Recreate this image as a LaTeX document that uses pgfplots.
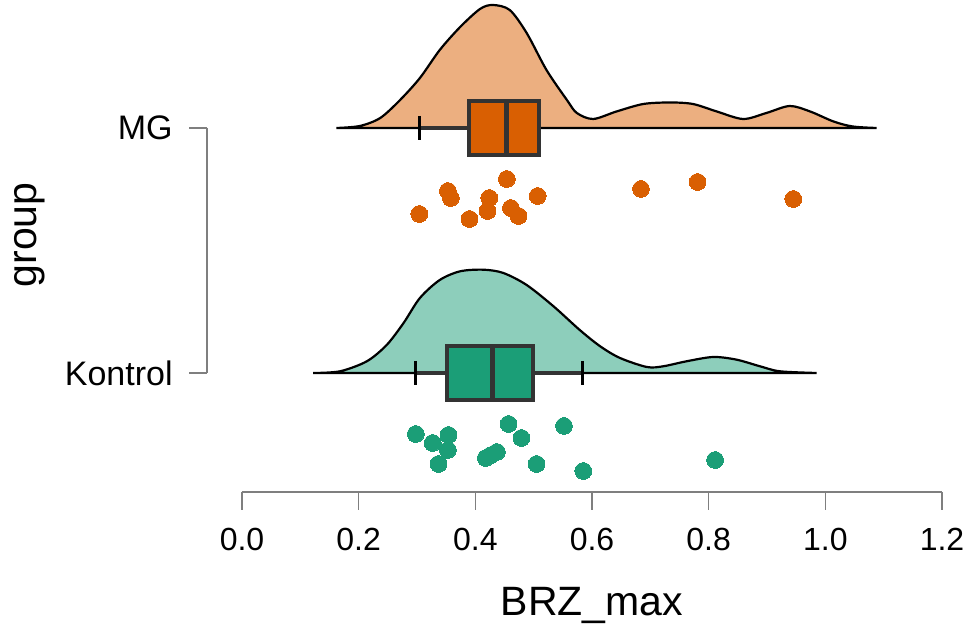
\documentclass[border=0pt]{standalone}
\usepackage{fontspec}
\setmainfont{Liberation Sans}
\usepackage{pgfplots}
\pgfplotsset{compat=1.18}
\definecolor{mgdark}{HTML}{D95F02}
\definecolor{mglight}{HTML}{ECAF80}
\definecolor{kdark}{HTML}{1B9E77}
\definecolor{klight}{HTML}{8DCEBB}
\definecolor{boxline}{HTML}{333333}
\definecolor{axgray}{HTML}{7F7F7F}
\begin{document}
\begin{tikzpicture}
\begin{axis}[
  scale only axis, x=291.667pt, y=0.5pt,
  xmin=0, xmax=1.2, ymin=-492, ymax=0,
  clip=false,
  axis x line*=bottom, axis y line=none,
  x axis line style={axgray, line width=0.75pt, -},
  xtick={0,0.2,0.4,0.6,0.8,1.0,1.2},
  tick align=outside, major tick length=9pt,
  xtick style={axgray, line width=0.75pt},
  ytick=\empty,
  /pgf/number format/assume math mode=true,
  xticklabel style={font=\fontsize{16}{19}\selectfont, yshift=-5.5pt, /pgf/number format/fixed, /pgf/number format/fixed zerofill, /pgf/number format/precision=1},
  xlabel={BRZ\_max},
  xlabel style={font=\fontsize{20.5}{24}\selectfont, at={(axis description cs:0.5,-0.2297)}, anchor=center},
]
% bounding area
\path (axis cs:-0.41486,0) rectangle (axis cs:1.25143,-635);
% y axis (R style)
\draw[axgray, line width=0.75pt] (axis cs:-0.06,-128) -- (axis cs:-0.06,-373);
\draw[axgray, line width=0.75pt] (axis cs:-0.06,-128) -- (axis cs:-0.0909,-128);
\draw[axgray, line width=0.75pt] (axis cs:-0.06,-373) -- (axis cs:-0.0909,-373);
\node[anchor=east, inner sep=0pt, font=\fontsize{17}{20}\selectfont] at (axis cs:-0.1183,-128) {MG};
\node[anchor=east, inner sep=0pt, font=\fontsize{17}{20}\selectfont] at (axis cs:-0.1183,-373) {Kontrol};
\node[rotate=90, inner sep=0pt, font=\fontsize{20.5}{24}\selectfont] at (axis cs:-0.3634,-235) {group};

% MG density
\addplot[draw=black, line width=1.1pt, fill=mglight, smooth, tension=0.5] coordinates {
(0.162,-128) (0.202,-126) (0.237,-118) (0.271,-100) (0.305,-78) (0.339,-50) (0.374,-27) (0.408,-9) (0.430,-5) (0.459,-10) (0.488,-33) (0.522,-70) (0.557,-100) (0.574,-113) (0.602,-119) (0.642,-111.5) (0.688,-104) (0.734,-102.5) (0.773,-104) (0.814,-111.5) (0.859,-119) (0.899,-113) (0.939,-106) (0.974,-111.5) (1.014,-121.5) (1.047,-126.5) (1.088,-128)
} -- cycle;
% Kontrol density
\addplot[draw=black, line width=1.1pt, fill=klight, smooth, tension=0.5] coordinates {
(0.122,-373) (0.168,-371.3) (0.214,-361.3) (0.248,-345) (0.277,-323) (0.305,-298) (0.339,-280) (0.374,-271.3) (0.414,-269.7) (0.448,-273) (0.488,-285) (0.534,-306.3) (0.579,-330) (0.614,-346.3) (0.648,-358) (0.694,-367) (0.722,-366.3) (0.762,-361.3) (0.808,-357) (0.848,-359.7) (0.888,-366.3) (0.922,-371.3) (0.985,-373)
} -- cycle;

% MG box
\addplot[boxline, line width=1.75pt] coordinates {(0.304,-128) (0.389,-128)};
\addplot[black, line width=1.5pt] coordinates {(0.304,-116) (0.304,-140)};
\addplot[draw=boxline, fill=mgdark, line width=2pt] coordinates {(0.389,-101) (0.509,-101) (0.509,-155) (0.389,-155)} -- cycle;
\addplot[boxline, line width=2.5pt] coordinates {(0.454,-101) (0.454,-155)};

% Kontrol box
\addplot[boxline, line width=1.75pt] coordinates {(0.298,-373) (0.351,-373)};
\addplot[boxline, line width=1.75pt] coordinates {(0.499,-373) (0.584,-373)};
\addplot[black, line width=1.5pt] coordinates {(0.298,-361) (0.298,-385)};
\addplot[black, line width=1.5pt] coordinates {(0.584,-361) (0.584,-385)};
\addplot[draw=boxline, fill=kdark, line width=2pt] coordinates {(0.351,-346) (0.499,-346) (0.499,-400) (0.351,-400)} -- cycle;
\addplot[boxline, line width=2.5pt] coordinates {(0.430,-346) (0.430,-400)};

% MG points
\addplot[only marks, mark=*, mark size=4.2pt, mark options={fill=mgdark, draw=mgdark, line width=0pt}] coordinates {
(0.304,-214) (0.353,-191) (0.358,-198) (0.390,-219) (0.421,-211) (0.424,-198) (0.454,-179) (0.461,-208) (0.474,-216) (0.507,-196) (0.684,-189) (0.781,-182) (0.945,-199)
};
% Kontrol points
\addplot[only marks, mark=*, mark size=4.2pt, mark options={fill=kdark, draw=kdark, line width=0pt}] coordinates {
(0.298,-434) (0.327,-443) (0.354,-435) (0.353,-450) (0.337,-464) (0.418,-458) (0.427,-455) (0.437,-452) (0.457,-424) (0.479,-438) (0.505,-464) (0.552,-426) (0.585,-471) (0.811,-460)
};
\end{axis}
\end{tikzpicture}
\end{document}
